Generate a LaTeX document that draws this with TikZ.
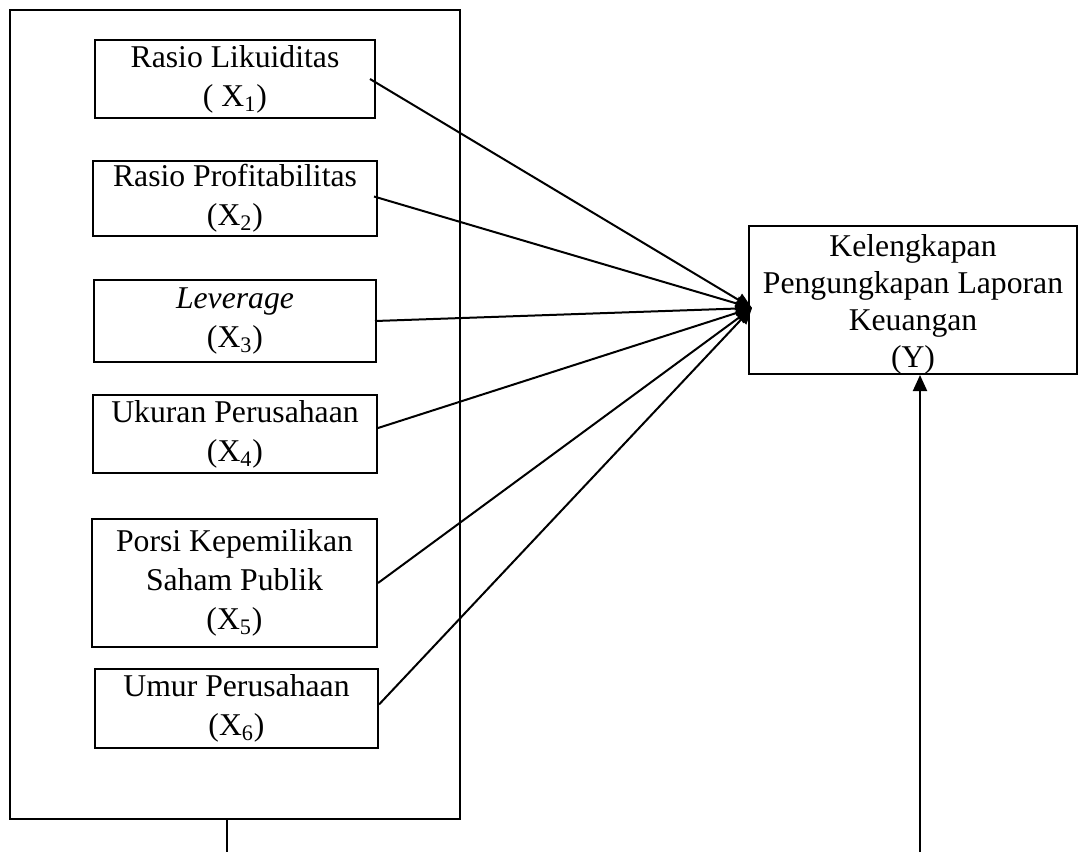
\documentclass[tikz,border=0pt]{standalone}
\usepackage{fontspec}
\setmainfont{Liberation Serif}
\usetikzlibrary{arrows.meta}
\begin{document}
\begin{tikzpicture}[x=0.5pt,y=-0.5pt,
  every node/.style={font=\fontsize{15.85pt}{19.5pt}\selectfont},
  bx/.style={draw, line width=1pt, inner sep=0pt, align=center},
  conn/.style={line width=1pt, -{Triangle[length=8pt,width=7pt]}},
  plain/.style={line width=1pt}]
\useasboundingbox (0,0) rectangle (1079,852);
\node[bx, minimum width=225pt, minimum height=404.5pt] (outer) at (235,414.5) {};
\node[bx, minimum width=140pt, minimum height=39pt] (b1) at (235,79) {Rasio Likuiditas\\( X\textsubscript{1})};
\node[bx, minimum width=142pt, minimum height=37.5pt] (b2) at (235,198.5) {Rasio Profitabilitas\\(X\textsubscript{2})};
\node[bx, minimum width=141pt, minimum height=41pt] (b3) at (235,321) {\textit{Leverage}\\(X\textsubscript{3})};
\node[bx, minimum width=142pt, minimum height=39pt] (b4) at (235,434) {Ukuran Perusahaan\\(X\textsubscript{4})};
\node[bx, minimum width=142.5pt, minimum height=64pt] (b5) at (234.5,583) {Porsi Kepemilikan\\Saham Publik\\(X\textsubscript{5})};
\node[bx, minimum width=141.5pt, minimum height=39.5pt] (b6) at (236.5,708.5) {Umur Perusahaan\\(X\textsubscript{6})};
\node[bx, minimum width=164pt, minimum height=74pt] (y) at (913,300) {};
\node[align=center, inner sep=0pt, font=\fontsize{15.85pt}{18.5pt}\selectfont] (ytext) at (913,304) {Kelengkapan\\Pengungkapan Laporan\\Keuangan\\(Y)};
\coordinate (tip) at (752,308);
\coordinate (botL) at (227,852);
\coordinate (botR) at (920,852);
\draw[conn] ([xshift=-3pt]b1.east) -- (tip);
\draw[conn] ([xshift=-2pt,yshift=1pt]b2.east) -- (tip);
\draw[conn] ([xshift=-1pt]b3.east) -- (tip);
\draw[conn] ([yshift=3pt]b4.east) -- (tip);
\draw[conn] (b5.east) -- (tip);
\draw[conn] ([yshift=2pt]b6.east) -- (tip);
\draw[plain] (botL |- outer.south) -- (botL);
\draw[conn] (botR) -- (botR |- y.south);
\end{tikzpicture}
\end{document}
